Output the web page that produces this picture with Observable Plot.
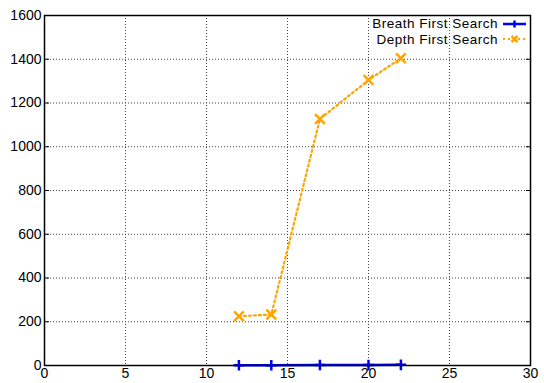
<!DOCTYPE html>
<html><head><meta charset="utf-8">
<script src="https://cdn.jsdelivr.net/npm/d3@7"></script>
<script src="https://cdn.jsdelivr.net/npm/@observablehq/plot@0.6"></script>
<style>
body{margin:0;background:#fff;}
#wrap{position:relative;width:544px;height:383px;font-family:"Liberation Sans",Arial,sans-serif;}
#legend{position:absolute;top:16px;right:18px;font-size:13.5px;letter-spacing:0.5px;color:#000;}
.row{display:flex;align-items:center;justify-content:flex-end;height:15.5px;}
.row span{display:inline-block;line-height:15.5px;}
.row svg{margin-left:5px;}
</style>
</head><body>
<div id="wrap"></div>
<script>
const xValues = [12, 14, 17, 20, 22];
const bfsValues = [1, 1, 2, 2, 3];
const dfsValues = [225, 233, 1127, 1305, 1405];
const seriesNames = ["Breath First Search", "Depth First Search"];
const xTicks = [0, 5, 10, 15, 20, 25, 30];
const yTicks = [0, 200, 400, 600, 800, 1000, 1200, 1400, 1600];

const bfs = xValues.map((x, i) => ({x, y: bfsValues[i]}));
const dfs = xValues.map((x, i) => ({x, y: dfsValues[i]}));
const BLUE = "#0000ff", ORANGE = "#ffa500";
const fmt = d => String(d);

const chart = Plot.plot({
  width: 544, height: 383,
  marginLeft: 44, marginRight: 14, marginTop: 15, marginBottom: 18,
  style: {fontFamily: "Liberation Sans, Arial, sans-serif", fontSize: "14px", color: "#000", background: "#fff"},
  x: {domain: [0, 30], ticks: xTicks},
  y: {domain: [0, 1600], ticks: yTicks},
  marks: [
    Plot.gridX(xTicks.slice(1, -1), {stroke: "#444", strokeOpacity: 1, strokeDasharray: "1,2"}),
    Plot.gridY(yTicks.slice(1, -1), {stroke: "#444", strokeOpacity: 1, strokeDasharray: "1,2"}),
    Plot.axisX(xTicks, {tickSize: 0, tickPadding: 3, label: null, fill: "#000", tickFormat: fmt}),
    Plot.axisY(yTicks, {tickSize: 0, tickPadding: 3, label: null, fill: "#000", tickFormat: fmt}),
    Plot.axisY(yTicks, {anchor: "right", tickSize: -5, text: null, label: null, stroke: "#000"}),
    Plot.axisY(yTicks, {tickSize: -5, text: null, label: null, stroke: "#000"}),
    Plot.line(dfs, {x: "x", y: "y", stroke: ORANGE, strokeWidth: 2.2, strokeDasharray: "2,3"}),
    Plot.dot(dfs, {x: "x", y: "y", symbol: "times", r: 4.5, stroke: ORANGE, strokeWidth: 2.5}),
    Plot.line(bfs, {x: "x", y: "y", stroke: BLUE, strokeWidth: 2.5}),
    Plot.dot(bfs, {x: "x", y: "y", symbol: "plus", r: 3.5, stroke: BLUE, strokeWidth: 2.5}),
    Plot.frame({stroke: "#000", strokeWidth: 1.5})
  ]
});
const wrap = document.getElementById("wrap");
wrap.appendChild(chart);

const legend = document.createElement("div");
legend.id = "legend";
const samples = [
  `<svg width="23" height="12"><line x1="0" y1="6" x2="23" y2="6" stroke="${BLUE}" stroke-width="2.5"/><path d="M11.5,2.5V9.5" stroke="${BLUE}" stroke-width="2.5"/></svg>`,
  `<svg width="23" height="12"><line x1="0" y1="6" x2="23" y2="6" stroke="${ORANGE}" stroke-width="2.2" stroke-dasharray="2,3"/><path d="M8.5,3L14.5,9M14.5,3L8.5,9" stroke="${ORANGE}" stroke-width="2.5"/></svg>`
];
seriesNames.forEach((name, i) => {
  const row = document.createElement("div");
  row.className = "row";
  row.innerHTML = `<span>${name}</span>${samples[i]}`;
  legend.appendChild(row);
});
wrap.appendChild(legend);
</script>
</body></html>
